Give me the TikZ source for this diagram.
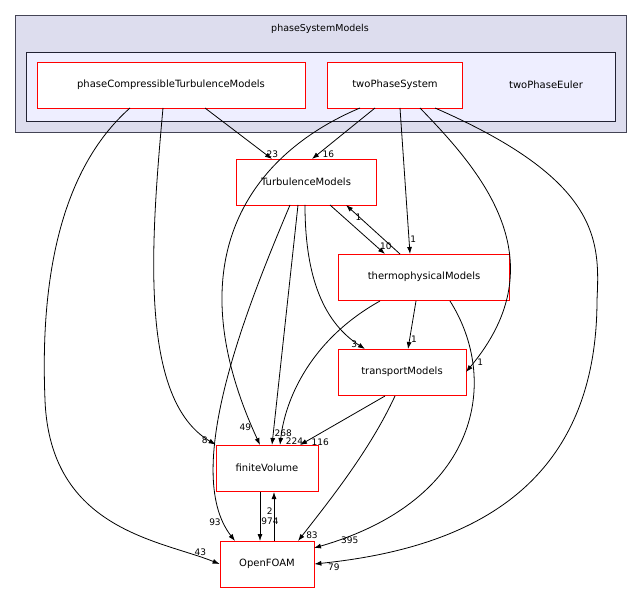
\documentclass[tikz,border=0pt]{standalone}
\usepackage{fontspec}
\setmainfont{DejaVu Sans}
\usetikzlibrary{arrows.meta}
\begin{document}
\begin{tikzpicture}[x=1pt,y=-1pt,line width=0.8pt,
 box/.style={draw=red,fill=white,minimum height=46pt,font=\fontsize{10}{12}\selectfont,inner xsep=8pt},
 e/.style={-{Latex[length=7pt,width=5pt]},black},
 lb/.style={font=\fontsize{9}{10}\selectfont,inner sep=1pt}]
\useasboundingbox (0,0) rectangle (643,596);
\draw[fill={rgb,255:red,221;green,221;blue,238},draw={rgb,255:red,68;green,68;blue,85}] (15,15) rectangle (626,132);
\node[font=\fontsize{9.5}{11}\selectfont] (c1) at (320,29) {phaseSystemModels};
\draw[fill={rgb,255:red,238;green,238;blue,255},draw={rgb,255:red,34;green,34;blue,51}] (26,52) rectangle (615,121);
\node[font=\fontsize{10}{12}\selectfont] (c2) at (546,85) {twoPhaseEuler};
\node[box,minimum width=268pt] (p) at (171,85) {phaseCompressibleTurbulenceModels};
\node[box,minimum width=135pt] (t) at (395,85) {twoPhaseSystem};
\node[box,minimum width=140pt] (tm) at (306,182) {TurbulenceModels};
\node[box,minimum width=171pt] (th) at (424,277) {thermophysicalModels};
\node[box,minimum width=128pt] (tr) at (402,372) {transportModels};
\node[box,minimum width=102pt] (fv) at (267,468) {finiteVolume};
\node[box,minimum width=94pt] (of) at (267,564) {OpenFOAM};
\draw[e] (205,108) -- (272,159) node[lb,pos=0.9,right]{23};
\draw[e] (163,108) .. controls (150,250) and (140,400) .. (fv.north west) node[lb,pos=0.97,left]{8};
\draw[e] (130,108) .. controls (60,170) and (40,280) .. (45,400) .. controls (50,530) and (160,540) .. (of.west) node[lb,pos=0.9,above]{43};
\draw[e] (375,108) -- (312,159) node[lb,pos=0.9,right=3pt]{16};
\draw[e] (360,108) .. controls (260,150) and (170,250) .. (260,445) node[lb,pos=0.97,left]{49};
\draw[e] (400,108) -- (410,254) node[lb,pos=0.9,right]{1};
\draw[e] (420,108) .. controls (480,170) and (560,260) .. (466,372) node[lb,pos=0.97,right=2pt]{1};
\draw[e] (435,108) .. controls (600,180) and (600,240) .. (597,300) .. controls (597,500) and (450,550) .. (of.east) node[lb,pos=0.97,below right]{79};
\draw[e] (330,205) -- (385,254) node[lb,pos=0.85,right=2pt]{10};
\draw[e] (400,254) -- (346,205) node[lb,pos=0.85,below right]{1};
\draw[e] (305,205) .. controls (305,270) and (320,320) .. (365,349) node[lb,pos=0.95,left]{3};
\draw[e] (298,205) -- (272,445) node[lb,pos=0.95,right]{268};
\draw[e] (290,205) .. controls (250,300) and (180,470) .. (235,541) node[lb,pos=0.92,left=2pt]{93};
\draw[e] (416,301) -- (408,349) node[lb,pos=0.8,right]{1};
\draw[e] (380,301) .. controls (310,340) and (285,400) .. (280,445) node[lb,pos=0.97,right=4pt]{224};
\draw[e] (450,301) .. controls (500,380) and (480,500) .. (314,548) node[lb,pos=0.95,right=2pt]{395};
\draw[e] (385,396) -- (300,445) node[lb,pos=0.95,right=6pt]{116};
\draw[e] (395,396) .. controls (370,450) and (330,500) .. (298,541) node[lb,pos=0.95,right=2pt]{83};
\draw[e] (260,492) -- (260,541) node[lb,pos=0.6,right]{974};
\draw[e] (274,541) -- (274,492) node[lb,pos=0.6,left]{2};
\end{tikzpicture}
\end{document}
